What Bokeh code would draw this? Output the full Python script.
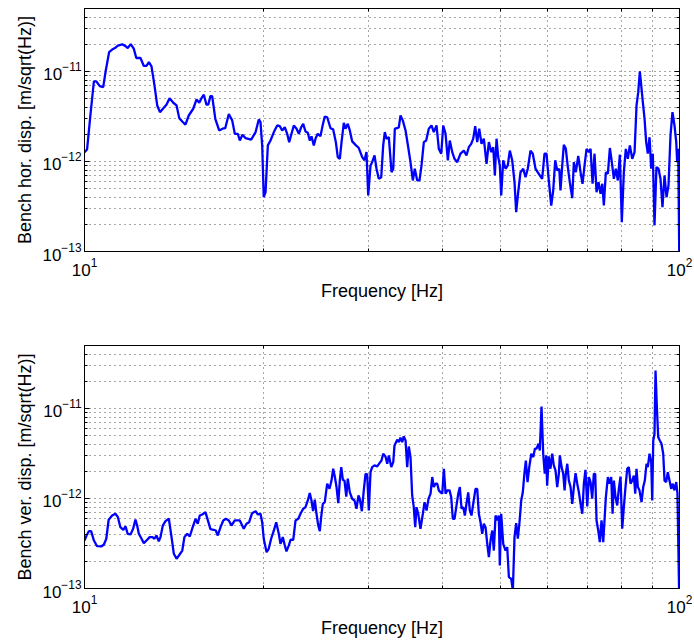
from bokeh.plotting import figure
from bokeh.layouts import column
from bokeh.models import Range1d, FixedTicker, LogAxis, LogTickFormatter
from bokeh.embed import file_html
from bokeh.resources import INLINE

# ---------------- data ----------------
hor_freq = [10.0, 10.1, 10.23, 10.37, 10.47, 10.61, 10.75, 10.86, 11.0, 11.13, 11.27, 11.38, 11.57, 11.72, 11.82, 11.96, 12.10, 12.22, 12.42, 12.58,
            12.71, 12.83, 12.96, 13.11, 13.25, 13.39, 13.59, 13.73, 13.90, 14.10, 14.28, 14.43, 14.60, 14.78, 14.97, 15.23, 15.43, 15.59, 15.71, 15.87,
            16.03, 16.14, 16.28, 16.39, 16.59, 16.84, 17.06, 17.24, 17.48, 17.71, 17.89, 18.10, 18.24, 18.43, 18.64, 19.06, 19.39, 19.63, 19.76, 19.89,
            20.01, 20.15, 20.33, 20.54, 20.81, 21.08, 21.29, 21.49, 21.71, 21.91, 22.08, 22.28, 22.48, 22.72, 22.92, 23.13, 23.31, 23.52, 23.73, 23.91,
            24.07, 24.29, 24.47, 24.66, 24.92, 25.12, 25.34, 25.58, 25.91, 26.18, 26.45, 26.65, 26.86, 27.04, 27.28, 27.46, 27.70, 27.92, 28.18, 28.54,
            28.91, 29.29, 29.55, 29.78, 29.98, 30.25, 30.44, 30.72, 30.96, 31.23, 31.53, 31.77, 31.97, 32.18, 32.47, 32.81, 33.03, 33.23, 33.54, 33.75,
            33.97, 34.27, 34.64, 35.00, 35.31, 35.63, 35.90, 36.24, 36.56, 36.85, 37.18, 37.52, 37.90, 38.30, 38.64, 39.05, 39.40, 39.77, 40.08, 40.44,
            40.80, 41.11, 41.50, 41.87, 42.31, 42.85, 43.40, 43.85, 44.25, 44.66, 45.01, 45.36, 45.71, 46.07, 46.48, 46.90, 47.39, 47.82, 48.26, 48.64,
            48.94, 49.26, 49.58, 49.89, 50.16, 50.55, 51.01, 51.45, 51.86, 52.34, 52.81, 53.15, 53.57, 54.05, 54.62, 55.11, 55.59, 56.18, 56.68, 57.28,
            58.02, 58.77, 59.31, 59.77, 60.30, 60.87, 61.34, 61.82, 62.30, 62.79, 63.10, 63.52, 63.91, 64.41, 64.91, 65.41, 66.03, 66.44, 66.96, 67.58,
            68.19, 68.71, 69.25, 69.79, 70.42, 70.88, 71.43, 71.98, 72.54, 73.10, 73.67, 74.16, 74.62, 75.20, 75.79, 76.38, 76.96, 77.57, 78.16, 78.77,
            79.39, 79.99, 80.62, 81.24, 81.88, 82.52, 83.29, 84.04, 84.68, 85.24, 85.77, 86.23, 86.77, 87.35, 87.90, 88.46, 89.05, 89.63, 90.19, 90.78,
            91.47, 92.19, 92.91, 93.62, 94.37, 95.10, 95.83, 96.58, 97.32, 98.08, 98.74, 99.11, 99.50, 100.0]

hor_disp = [1.27e-12, 1.36e-12, 3.24e-12, 7.74e-12, 7.74e-12, 6.87e-12, 6.69e-12, 1.03e-11, 1.64e-11, 1.75e-11, 1.83e-11, 1.94e-11, 2.00e-11, 1.91e-11, 1.82e-11, 2.01e-11, 1.79e-11, 1.41e-11, 1.41e-11, 1.15e-11,
            1.15e-11, 1.27e-11, 1.14e-11, 6.99e-12, 4.19e-12, 3.53e-12, 3.95e-12, 4.27e-12, 5.05e-12, 4.49e-12, 4.19e-12, 3.03e-12, 2.78e-12, 2.56e-12, 3.24e-12, 3.85e-12, 4.89e-12, 4.49e-12, 4.98e-12, 5.51e-12,
            4.27e-12, 4.27e-12, 5.32e-12, 5.32e-12, 2.98e-12, 2.21e-12, 2.31e-12, 2.34e-12, 3.36e-12, 2.86e-12, 2.03e-12, 2.03e-12, 1.71e-12, 1.98e-12, 1.82e-12, 1.75e-12, 2.12e-12, 2.93e-12, 2.73e-12, 1.51e-12,
            4.01e-13, 4.56e-13, 1.51e-12, 1.71e-12, 2.12e-12, 2.51e-12, 2.47e-12, 2.21e-12, 2.40e-12, 2.03e-12, 1.64e-12, 2.03e-12, 2.51e-12, 2.31e-12, 2.03e-12, 2.40e-12, 2.62e-12, 2.15e-12, 2.08e-12, 1.71e-12,
            1.90e-12, 1.51e-12, 1.82e-12, 2.03e-12, 1.91e-12, 2.47e-12, 3.16e-12, 3.10e-12, 2.34e-12, 2.27e-12, 1.64e-12, 1.12e-12, 1.07e-12, 1.64e-12, 2.69e-12, 2.31e-12, 2.62e-12, 2.21e-12, 1.67e-12, 1.53e-12,
            1.41e-12, 1.12e-12, 1.03e-12, 1.27e-12, 4.19e-13, 9.03e-13, 9.82e-13, 1.17e-12, 8.30e-13, 6.42e-13, 6.69e-13, 1.51e-12, 2.12e-12, 1.79e-12, 1.86e-12, 7.60e-13, 8.30e-13, 2.31e-12, 2.34e-12, 2.40e-12,
            3.24e-12, 2.86e-12, 2.21e-12, 1.44e-12, 9.82e-13, 6.15e-13, 8.30e-13, 6.15e-13, 6.15e-13, 9.03e-13, 1.64e-12, 1.71e-12, 2.31e-12, 2.51e-12, 2.12e-12, 2.51e-12, 1.38e-12, 1.22e-12, 2.51e-12, 2.03e-12,
            1.03e-12, 1.71e-12, 1.27e-12, 1.07e-12, 9.82e-13, 1.22e-12, 1.32e-12, 1.17e-12, 1.44e-12, 1.57e-12, 1.79e-12, 2.47e-12, 1.64e-12, 2.31e-12, 1.57e-12, 1.79e-12, 9.42e-13, 1.64e-12, 1.27e-12, 1.44e-12,
            6.99e-13, 1.79e-12, 1.12e-12, 9.03e-13, 4.19e-13, 1.03e-12, 8.30e-13, 9.03e-13, 1.32e-12, 1.03e-12, 5.89e-13, 2.73e-13, 4.56e-13, 7.60e-13, 8.30e-13, 6.69e-13, 8.30e-13, 1.32e-12, 1.22e-12, 8.30e-13,
            7.30e-13, 6.42e-13, 1.22e-12, 1.22e-12, 6.15e-13, 3.24e-13, 4.76e-13, 1.03e-12, 7.94e-13, 8.30e-13, 4.76e-13, 9.03e-13, 1.53e-12, 1.38e-12, 8.65e-13, 5.89e-13, 3.91e-13, 9.82e-13, 7.60e-13, 1.15e-12,
            7.60e-13, 5.65e-13, 9.03e-13, 1.38e-12, 1.27e-12, 1.38e-12, 5.65e-13, 1.22e-12, 4.56e-13, 5.89e-13, 4.38e-13, 5.65e-13, 3.24e-13, 7.60e-13, 7.30e-13, 1.41e-12, 9.82e-13, 6.42e-13, 8.30e-13, 6.15e-13,
            1.19e-12, 2.12e-13, 7.60e-13, 1.38e-12, 1.07e-12, 1.51e-12, 1.07e-12, 1.27e-12, 4.19e-12, 5.89e-12, 1.00e-11, 6.99e-12, 4.56e-12, 2.98e-12, 1.64e-12, 1.22e-12, 1.86e-12, 8.30e-13, 1.22e-12, 1.95e-13,
            8.65e-13, 8.30e-13, 6.42e-13, 3.11e-13, 6.99e-13, 4.01e-13, 5.41e-13, 1.95e-12, 3.53e-12, 2.51e-12, 1.64e-12, 9.82e-13, 1.38e-12, 5.0e-14]

ver_freq = [10.00, 10.08, 10.17, 10.26, 10.37, 10.50, 10.67, 10.78, 10.88, 10.98, 11.13, 11.27, 11.38, 11.49, 11.62, 11.72, 11.82, 11.95, 12.07, 12.18,
            12.26, 12.34, 12.47, 12.58, 12.71, 12.87, 13.01, 13.11, 13.21, 13.33, 13.42, 13.54, 13.68, 13.86, 13.98, 14.13, 14.28, 14.44, 14.60, 14.72,
            14.88, 15.03, 15.17, 15.37, 15.50, 15.62, 15.77, 15.97, 16.12, 16.28, 16.49, 16.62, 16.75, 16.93, 17.11, 17.28, 17.48, 17.66, 17.89, 18.24,
            18.52, 18.72, 18.91, 19.13, 19.39, 19.56, 19.76, 19.89, 20.01, 20.23, 20.40, 20.59, 20.81, 21.00, 21.21, 21.35, 21.54, 21.71, 21.85, 22.05,
            22.20, 22.43, 22.63, 22.87, 23.07, 23.31, 23.52, 23.73, 23.91, 24.07, 24.22, 24.38, 24.54, 24.71, 24.86, 24.99, 25.15, 25.34, 25.58, 25.81,
            26.01, 26.18, 26.35, 26.52, 26.70, 26.86, 27.01, 27.18, 27.35, 27.54, 27.70, 27.92, 28.18, 28.43, 28.65, 28.87, 29.02, 29.25, 29.47, 29.67,
            29.86, 30.05, 30.25, 30.44, 30.72, 31.04, 31.32, 31.56, 31.77, 32.05, 32.27, 32.47, 32.78, 33.03, 33.19, 33.54, 33.75, 33.97, 34.19, 34.40,
            34.64, 34.86, 35.08, 35.31, 35.54, 35.76, 35.96, 36.14, 36.38, 36.70, 37.04, 37.28, 37.57, 37.86, 38.16, 38.41, 38.64, 38.90, 39.16, 39.40,
            39.66, 39.93, 40.18, 40.44, 40.71, 41.07, 41.34, 41.59, 41.87, 42.15, 42.48, 42.74, 43.02, 43.31, 43.58, 43.85, 44.15, 44.42, 44.71, 45.01,
            45.41, 45.71, 46.00, 46.30, 46.60, 46.90, 47.21, 47.52, 47.82, 48.13, 48.45, 48.75, 49.07, 49.39, 49.70, 49.89, 50.16, 50.55, 51.01, 51.34,
            51.67, 52.14, 52.47, 52.81, 53.15, 53.49, 53.84, 54.20, 54.53, 54.90, 55.18, 55.54, 55.91, 56.35, 56.79, 57.14, 57.52, 57.94, 58.24, 58.63,
            59.01, 59.37, 59.70, 59.92, 60.30, 60.70, 61.11, 61.48, 61.89, 62.30, 62.69, 62.94, 63.36, 63.77, 64.10, 64.41, 64.77, 65.17, 65.60, 66.03,
            66.44, 66.88, 67.32, 67.75, 68.19, 68.64, 69.07, 69.50, 69.98, 70.42, 70.88, 71.33, 71.78, 72.17, 72.54, 73.02, 73.47, 73.95, 74.44, 74.81,
            75.20, 75.79, 76.29, 76.78, 77.18, 77.57, 78.07, 78.59, 79.07, 79.59, 80.12, 80.62, 81.14, 81.69, 82.20, 82.73, 83.29, 83.81, 84.26, 84.68,
            85.12, 85.65, 86.33, 86.90, 87.44, 88.01, 88.46, 89.05, 89.63, 89.99, 90.34, 90.78, 91.14, 91.61, 92.09, 92.67, 93.27, 93.89, 94.37, 94.97,
            95.57, 96.20, 96.85, 97.44, 98.08, 98.74, 99.22, 100.0]

ver_disp = [3.41e-13, 3.88e-13, 4.33e-13, 4.33e-13, 3.41e-13, 2.95e-13, 2.93e-13, 3.08e-13, 3.57e-13, 5.80e-13, 6.47e-13, 6.76e-13, 6.20e-13, 4.80e-13, 4.49e-13, 4.89e-13, 4.05e-13, 3.98e-13, 4.61e-13, 5.84e-13,
            5.01e-13, 4.05e-13, 3.57e-13, 3.19e-13, 3.41e-13, 3.72e-13, 3.72e-13, 3.57e-13, 3.88e-13, 3.35e-13, 3.72e-13, 5.01e-13, 5.60e-13, 5.95e-13, 4.05e-13, 2.43e-13, 2.14e-13, 2.37e-13, 2.64e-13, 3.72e-13,
            4.05e-13, 3.78e-13, 4.61e-13, 5.95e-13, 5.24e-13, 6.47e-13, 6.64e-13, 7.04e-13, 5.70e-13, 4.56e-13, 4.49e-13, 4.41e-13, 3.88e-13, 4.80e-13, 5.70e-13, 5.95e-13, 5.70e-13, 5.01e-13, 5.70e-13, 5.70e-13,
            4.61e-13, 5.24e-13, 5.45e-13, 6.87e-13, 7.22e-13, 6.64e-13, 6.76e-13, 5.45e-13, 3.57e-13, 2.53e-13, 2.76e-13, 3.57e-13, 4.41e-13, 5.45e-13, 4.05e-13, 3.14e-13, 3.72e-13, 3.01e-13, 2.58e-13, 3.01e-13,
            3.48e-13, 3.48e-13, 5.70e-13, 5.95e-13, 6.76e-13, 7.69e-13, 8.00e-13, 9.50e-13, 1.15e-12, 9.50e-13, 7.22e-13, 9.68e-13, 6.76e-13, 5.01e-13, 4.33e-13, 6.20e-13, 8.73e-13, 9.10e-13, 1.46e-12, 1.28e-12,
            1.58e-12, 2.14e-12, 1.73e-12, 1.34e-12, 8.87e-13, 1.58e-12, 2.23e-12, 1.61e-12, 1.58e-12, 1.05e-12, 1.66e-12, 1.17e-12, 9.93e-13, 9.50e-13, 7.69e-13, 1.08e-12, 9.93e-13, 7.22e-13, 1.23e-12, 1.88e-12,
            1.85e-12, 7.36e-13, 1.96e-12, 2.23e-12, 2.33e-12, 2.27e-12, 2.47e-12, 2.64e-12, 3.14e-12, 2.93e-12, 2.43e-12, 3.01e-12, 2.23e-12, 2.53e-12, 3.88e-12, 4.49e-12, 4.22e-12, 4.73e-12, 4.22e-12, 4.89e-12,
            4.41e-12, 2.23e-12, 3.78e-12, 2.88e-12, 1.08e-12, 8.00e-13, 4.80e-13, 8.00e-13, 6.76e-13, 4.61e-13, 6.76e-13, 9.10e-13, 7.36e-13, 9.93e-13, 1.13e-12, 1.73e-12, 1.34e-12, 1.46e-12, 1.46e-12, 1.23e-12,
            1.17e-12, 1.13e-12, 2.14e-12, 1.13e-12, 1.23e-12, 1.23e-12, 1.03e-12, 5.95e-13, 5.95e-13, 8.00e-13, 1.13e-12, 1.34e-12, 7.69e-13, 8.00e-13, 6.47e-13, 8.73e-13, 1.17e-12, 7.36e-13, 6.47e-13, 8.73e-13,
            1.28e-12, 1.28e-12, 6.76e-13, 5.45e-13, 4.05e-13, 5.24e-13, 4.80e-13, 3.14e-13, 2.23e-13, 3.41e-13, 4.41e-13, 2.64e-13, 6.47e-13, 5.70e-13, 6.47e-13, 1.80e-13, 6.76e-13, 3.14e-13, 2.64e-13, 2.88e-13,
            1.34e-13, 1.28e-13, 9.5e-14, 3.72e-13, 5.32e-13, 3.57e-13, 5.45e-13, 9.50e-13, 1.17e-12, 1.96e-12, 2.64e-12, 1.52e-12, 2.23e-12, 3.14e-12, 2.88e-12, 3.57e-12, 3.57e-12, 4.05e-12, 3.41e-12, 1.05e-11,
            3.14e-12, 1.88e-12, 3.01e-12, 1.39e-12, 2.93e-12, 2.14e-12, 3.14e-12, 2.33e-12, 2.05e-12, 1.34e-12, 1.88e-12, 3.01e-12, 2.23e-12, 1.88e-12, 1.23e-12, 1.88e-12, 2.43e-12, 1.58e-12, 1.34e-12, 8.73e-13,
            1.34e-12, 1.91e-12, 1.46e-12, 1.17e-12, 8.73e-13, 6.76e-13, 1.46e-12, 2.08e-12, 8.15e-13, 1.73e-12, 1.52e-12, 9.93e-13, 1.88e-12, 1.88e-12, 5.70e-13, 4.41e-13, 3.27e-13, 5.70e-13, 3.27e-13, 5.70e-13,
            1.03e-12, 1.73e-12, 1.46e-12, 1.73e-12, 6.76e-13, 1.58e-12, 1.03e-12, 8.36e-13, 1.28e-12, 1.75e-12, 4.61e-13, 8.00e-13, 1.34e-12, 2.14e-12, 2.23e-12, 1.46e-12, 1.58e-12, 1.80e-12, 1.13e-12, 2.14e-12,
            1.34e-12, 1.23e-12, 9.10e-13, 1.34e-12, 1.58e-12, 2.43e-12, 2.23e-12, 3.14e-12, 2.53e-12, 9.50e-13, 4.41e-12, 5.24e-12, 2.64e-11, 1.03e-11, 4.80e-12, 4.41e-12, 4.05e-12, 3.14e-12, 1.58e-12, 1.52e-12,
            1.96e-12, 1.58e-12, 1.28e-12, 1.46e-12, 1.23e-12, 1.52e-12, 1.13e-12, 5.0e-14]

x_major = [10, 100]
x_minor = [20, 30, 40, 50, 60, 70, 80, 90]
y_major = [1e-13, 1e-12, 1e-11]
y_minor = [2e-13, 3e-13, 4e-13, 5e-13, 6e-13, 7e-13, 8e-13, 9e-13,
           2e-12, 3e-12, 4e-12, 5e-12, 6e-12, 7e-12, 8e-12, 9e-12,
           2e-11, 3e-11, 4e-11, 5e-11]
x_limits = (10, 100)
y_limits = (1e-13, 5e-11)

x_label = "Frequency [Hz]"
y_label_top = "Bench hor. disp. [m/sqrt(Hz)]"
y_label_bottom = "Bench ver. disp. [m/sqrt(Hz)]"

FONT = "Liberation Sans"


def style_axis(ax, show_labels=True):
    ax.axis_line_color = "black"
    ax.major_tick_line_color = "black"
    ax.minor_tick_line_color = "black"
    ax.major_tick_in = 5
    ax.major_tick_out = 0
    ax.minor_tick_in = 3
    ax.minor_tick_out = 0
    ax.major_label_text_font = FONT
    ax.major_label_text_color = "black"
    ax.axis_label_text_font = FONT
    ax.axis_label_text_font_style = "normal"
    ax.axis_label_text_color = "black"
    ax.axis_label_text_font_size = "18px"
    if show_labels:
        ax.major_label_text_font_size = "17px"
    else:
        ax.major_label_text_font_size = "1px"
        ax.major_label_text_alpha = 0
        ax.major_label_standoff = 0


def panel(freq, disp, ylabel, height, border_top, border_bottom):
    n = min(len(freq), len(disp))
    p = figure(width=694, height=height, x_axis_type="log", y_axis_type="log",
               x_range=Range1d(*x_limits), y_range=Range1d(*y_limits),
               output_backend="svg", toolbar_location=None,
               min_border_left=84, min_border_right=15, min_border_top=border_top,
               min_border_bottom=border_bottom)
    p.background_fill_color = "white"
    p.border_fill_color = "white"
    p.outline_line_color = "black"
    p.outline_line_width = 1
    p.outline_line_alpha = 1

    xt = FixedTicker(ticks=x_major, minor_ticks=x_minor)
    yt = FixedTicker(ticks=y_major, minor_ticks=y_minor)

    p.xaxis.ticker = xt
    p.yaxis.ticker = yt
    p.xaxis.formatter = LogTickFormatter()
    p.yaxis.formatter = LogTickFormatter()
    p.xaxis.axis_label = x_label
    p.yaxis.axis_label = ylabel
    for ax in p.xaxis:
        style_axis(ax)
        ax.major_label_standoff = 6
        ax.axis_label_standoff = 2
    for ax in p.yaxis:
        style_axis(ax)
        ax.major_label_standoff = 3
        ax.axis_label_standoff = 4

    top = LogAxis(ticker=FixedTicker(ticks=x_major, minor_ticks=x_minor),
                  formatter=LogTickFormatter())
    style_axis(top, show_labels=False)
    p.add_layout(top, "above")
    right = LogAxis(ticker=FixedTicker(ticks=y_major, minor_ticks=y_minor),
                    formatter=LogTickFormatter())
    style_axis(right, show_labels=False)
    p.add_layout(right, "right")

    for g in (p.xgrid, p.ygrid):
        g.grid_line_color = "#222222"
        g.grid_line_alpha = 0.8
        g.grid_line_dash = "1 4"
        g.grid_line_width = 1
        g.minor_grid_line_color = "#222222"
        g.minor_grid_line_alpha = 0.8
        g.minor_grid_line_dash = "1 4"
        g.minor_grid_line_width = 1

    p.line(freq[:n], disp[:n], line_color="#0000ff", line_width=2.3)
    return p


p1 = panel(hor_freq, hor_disp, y_label_top, 345, 8, 94)
p2 = panel(ver_freq, ver_disp, y_label_bottom, 296, 0, 53)

layout = column(p1, p2, spacing=0)
open("out.html", "w").write(file_html(layout, INLINE))
